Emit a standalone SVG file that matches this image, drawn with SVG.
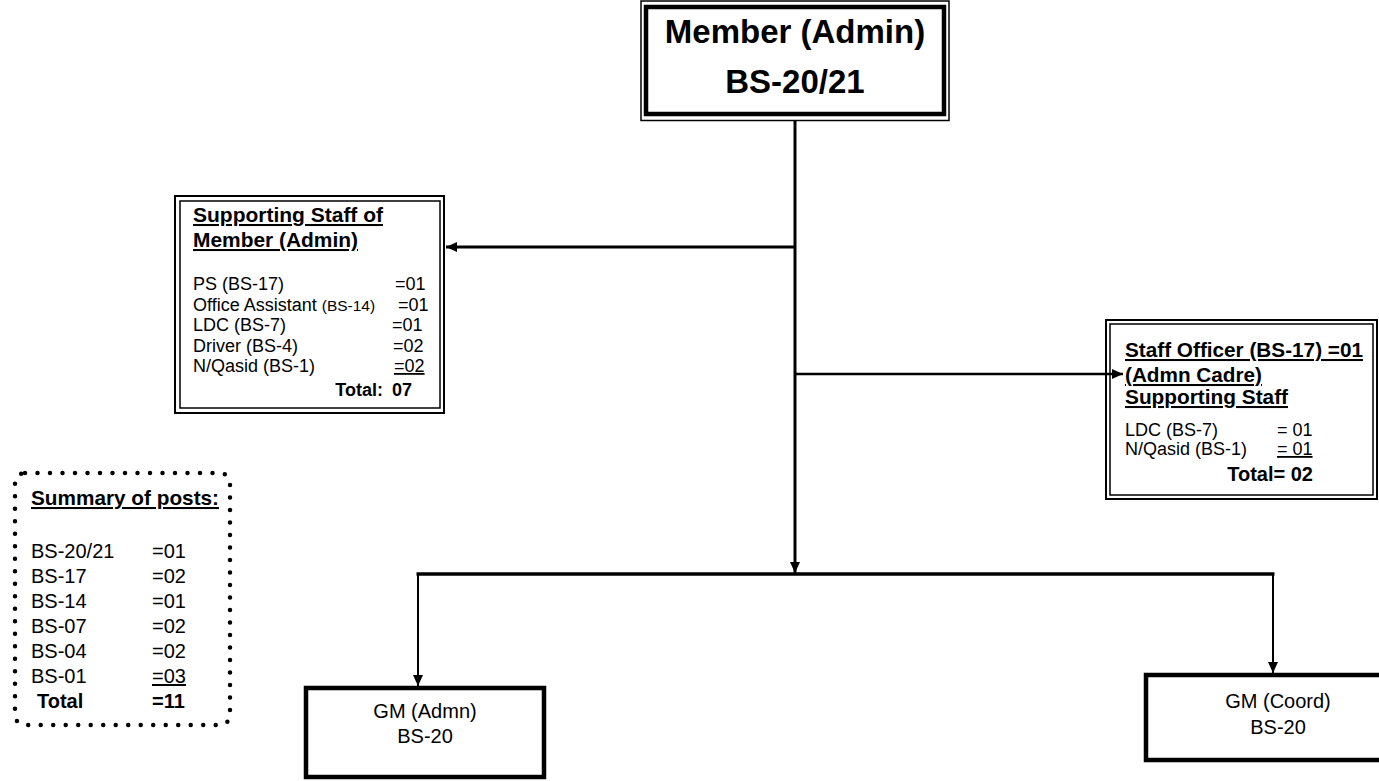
<svg xmlns="http://www.w3.org/2000/svg" width="1379" height="781" viewBox="0 0 1379 781">
<style>
text{font-family:"Liberation Sans",Arial,sans-serif;fill:#000}
.b{font-weight:bold}
.u{text-decoration:underline}
.r{font-size:18px}
.h{font-size:20.5px;font-weight:bold;text-decoration:underline}
.s{font-size:20px}
.thin{fill:none;stroke:#000;stroke-width:1.5}
.thick{fill:none;stroke:#000;stroke-width:4.5}
.dbl{fill:none;stroke:#000;stroke-width:2}
.con{stroke:#000;fill:none}
</style>
<defs>
<marker id="ah" markerWidth="12" markerHeight="10" refX="11" refY="5" orient="auto" markerUnits="userSpaceOnUse">
<path d="M0,0 L11,5 L0,10 z" fill="#000"/>
</marker>
</defs>
<rect width="1379" height="781" fill="#fff"/>

<g id="connectors">
<line class="con" x1="795" y1="121" x2="795" y2="573" stroke-width="3" marker-end="url(#ah)"/>
<line class="con" x1="795" y1="247" x2="446" y2="247" stroke-width="3" marker-end="url(#ah)"/>
<line class="con" x1="795" y1="374" x2="1123" y2="374" stroke-width="2.5" marker-end="url(#ah)"/>
<line class="con" x1="416.5" y1="574" x2="1274.5" y2="574" stroke-width="3.5"/>
<line class="con" x1="418" y1="574" x2="418" y2="686" stroke-width="2" marker-end="url(#ah)"/>
<line class="con" x1="1273" y1="574" x2="1273" y2="673" stroke-width="2" marker-end="url(#ah)"/>
</g>

<g id="member-admin">
<rect class="thin" x="641" y="1" width="308" height="119.5"/>
<rect class="thick" x="646" y="7" width="298" height="107"/>
<text class="b" x="795" y="43" font-size="33" text-anchor="middle">Member (Admin)</text>
<text class="b" x="795" y="93" font-size="33" text-anchor="middle">BS-20/21</text>
</g>

<g id="supporting-staff">
<rect class="dbl" x="175" y="196" width="269" height="217"/>
<rect class="thin" x="180" y="201" width="260" height="207"/>
<text class="h" x="193" y="222" textLength="190" lengthAdjust="spacingAndGlyphs">Supporting Staff of</text>
<text class="h" x="193" y="247" textLength="165" lengthAdjust="spacingAndGlyphs">Member (Admin)</text>
<text class="r" x="193" y="290">PS (BS-17)</text><text class="r" x="395" y="290">=01</text>
<text class="r" x="193" y="310.5">Office Assistant <tspan font-size="15.5">(BS-14)</tspan></text><text class="r" x="398" y="310.5">=01</text>
<text class="r" x="193" y="331">LDC (BS-7)</text><text class="r" x="392" y="331">=01</text>
<text class="r" x="193" y="351.5">Driver (BS-4)</text><text class="r" x="393" y="351.5">=02</text>
<text class="r" x="193" y="372">N/Qasid (BS-1)</text><text class="r u" x="394" y="372">=02</text>
<text class="r b" x="383" y="396" text-anchor="end">Total:</text><text class="r b" x="392" y="396">07</text>
</g>

<g id="staff-officer">
<rect class="dbl" x="1106" y="320" width="271" height="179"/>
<rect class="thin" x="1110" y="324" width="263" height="171"/>
<text class="h" x="1125" y="357" textLength="238" lengthAdjust="spacingAndGlyphs">Staff Officer (BS-17) =01</text>
<text class="h" x="1125" y="382" textLength="137" lengthAdjust="spacingAndGlyphs">(Admn Cadre)</text>
<text class="h" x="1125" y="404" textLength="163" lengthAdjust="spacingAndGlyphs">Supporting Staff</text>
<text class="r" x="1125" y="436">LDC (BS-7)</text><text class="r" x="1277" y="436">= 01</text>
<text class="r" x="1125" y="455">N/Qasid (BS-1)</text><text class="r u" x="1277" y="455">= 01</text>
<text class="b" x="1313" y="481" font-size="20" text-anchor="end">Total= 02</text>
</g>

<g id="summary">
<rect x="15" y="473" width="215" height="252" rx="10" fill="none" stroke="#000" stroke-width="4.5" stroke-dasharray="0 12.5" stroke-linecap="round"/>
<text class="h" x="31" y="505" textLength="188" lengthAdjust="spacingAndGlyphs">Summary of posts:</text>
<text class="s" x="31" y="558">BS-20/21</text><text class="s" x="152" y="558">=01</text>
<text class="s" x="31" y="583">BS-17</text><text class="s" x="152" y="583">=02</text>
<text class="s" x="31" y="608">BS-14</text><text class="s" x="152" y="608">=01</text>
<text class="s" x="31" y="633">BS-07</text><text class="s" x="152" y="633">=02</text>
<text class="s" x="31" y="658">BS-04</text><text class="s" x="152" y="658">=02</text>
<text class="s" x="31" y="683">BS-01</text><text class="s u" x="152" y="683">=03</text>
<text class="s b" x="37" y="708">Total</text><text class="s b" x="152" y="708">=11</text>
</g>

<g id="gm-admn">
<rect class="thick" x="306" y="688" width="238" height="89"/>
<text x="425" y="718" font-size="20" text-anchor="middle">GM (Admn)</text>
<text x="425" y="743" font-size="20" text-anchor="middle">BS-20</text>
</g>

<g id="gm-coord">
<rect class="thick" x="1146" y="675" width="264" height="85"/>
<text x="1278" y="708" font-size="20" text-anchor="middle">GM (Coord)</text>
<text x="1278" y="734" font-size="20" text-anchor="middle">BS-20</text>
</g>
</svg>
